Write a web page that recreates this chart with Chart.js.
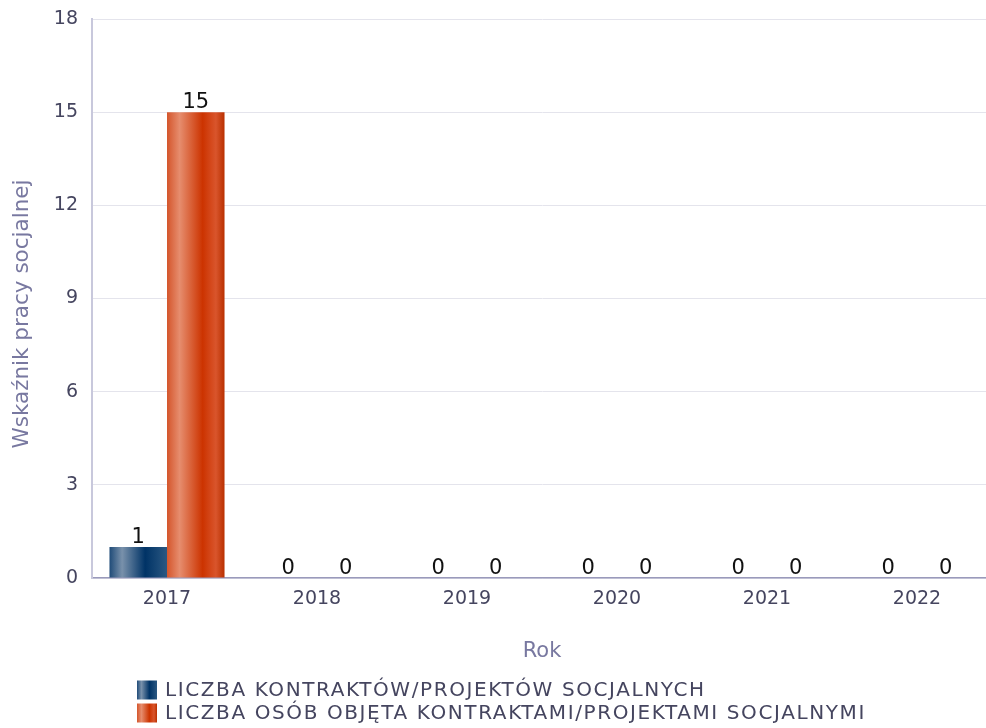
<!DOCTYPE html>
<html><head><meta charset="utf-8">
<script src="https://cdn.jsdelivr.net/npm/chart.js@4.4.1/dist/chart.umd.min.js"></script>
<style>html,body{margin:0;padding:0;background:#fff;overflow:hidden;}#wrap{width:986px;height:728px;overflow:hidden;}</style>
</head><body><div id="wrap"><canvas id="c" width="1000" height="728"></canvas></div>
<script>
const categories = ['2017','2018','2019','2020','2021','2022'];
const contracts = [1,0,0,0,0,0];
const persons = [15,0,0,0,0,0];
const seriesLabels = ['LICZBA KONTRAKTÓW/PROJEKTÓW SOCJALNYCH','LICZBA OSÓB OBJĘTA KONTRAKTAMI/PROJEKTAMI SOCJALNYMI'];
const yTicks = [0,3,6,9,12,15,18];
const yTitle = 'Wskaźnik pracy socjalnej';
const xTitle = 'Rok';

const FONT = "'DejaVu Sans', Verdana, sans-serif";
const CAT_PCT = 0.767;
const palettes = [
  [[0,'#1f4b78'],[0.22,'#7991ab'],[0.62,'#003366'],[1,'#2b5882']],
  [[0,'#d4552b'],[0.22,'#e68d6e'],[0.62,'#cc3300'],[0.85,'#d9552c'],[1,'#b93000']]
];
const solid = ['#1f4b78','#cc3300'];

function barFill(ctx){
  const chart = ctx.chart;
  const xs = chart.scales.x;
  if (!xs || ctx.dataIndex === undefined) return solid[ctx.datasetIndex];
  const cw = xs.width / categories.length;
  const w = cw * CAT_PCT / 2;
  const xc = xs.getPixelForValue(ctx.dataIndex);
  const left = ctx.datasetIndex === 0 ? xc - w : xc;
  if (!isFinite(left) || !isFinite(w) || w <= 0) return solid[ctx.datasetIndex];
  const g = chart.ctx.createLinearGradient(left, 0, left + w, 0);
  palettes[ctx.datasetIndex].forEach(s => g.addColorStop(s[0], s[1]));
  return g;
}

const valueLabels = {
  id: 'valueLabels',
  afterDatasetsDraw(chart){
    const c = chart.ctx;
    c.save();
    c.font = "21px " + FONT;
    c.fillStyle = '#111';
    c.textAlign = 'center';
    c.textBaseline = 'bottom';
    chart.data.datasets.forEach((ds, di) => {
      chart.getDatasetMeta(di).data.forEach((bar, i) => {
        c.fillText(String(ds.data[i]), bar.x, bar.y + 1);
      });
    });
    c.restore();
  }
};

const yTitlePlugin = {
  id: 'yTitlePlugin',
  afterDraw(chart){
    const c = chart.ctx;
    c.save();
    c.font = "21.5px " + FONT;
    c.fillStyle = '#7878a0';
    c.textAlign = 'center';
    c.textBaseline = 'middle';
    c.translate(22, 314);
    c.rotate(-Math.PI / 2);
    c.fillText(yTitle, 0, 0);
    c.restore();
  }
};

const customLegend = {
  id: 'customLegend',
  afterDraw(chart){
    const c = chart.ctx;
    c.save();
    c.font = "20px " + FONT;
    c.textBaseline = 'middle';
    c.textAlign = 'left';
    try { c.letterSpacing = '1.6px'; } catch(e) {}
    const x0 = 137, ys = [690, 713], bw = 20, bh = 19;
    chart.data.datasets.forEach((ds, di) => {
      const y = ys[di];
      const g = c.createLinearGradient(x0, 0, x0 + bw, 0);
      palettes[di].forEach(s => g.addColorStop(s[0], s[1]));
      c.fillStyle = g;
      c.fillRect(x0, y - bh/2, bw, bh);
      c.fillStyle = '#45455f';
      c.fillText(ds.label, x0 + bw + 8, y + 1);
    });
    c.restore();
  }
};

new Chart(document.getElementById('c'), {
  type: 'bar',
  data: {
    labels: categories,
    datasets: [
      { label: seriesLabels[0], data: contracts, backgroundColor: barFill, borderWidth: 0 },
      { label: seriesLabels[1], data: persons, backgroundColor: barFill, borderWidth: 0 }
    ]
  },
  options: {
    responsive: false,
    animation: false,
    devicePixelRatio: 1,
    layout: { padding: { top: 19, right: 8, left: 0, bottom: 62 } },
    datasets: { bar: { categoryPercentage: CAT_PCT, barPercentage: 1 } },
    plugins: { legend: { display: false }, tooltip: { enabled: false } },
    scales: {
      x: {
        grid: { display: false, drawTicks: false },
        border: { color: '#9a9abb', width: 1.5 },
        ticks: { color: '#45455f', font: { size: 19, family: FONT }, padding: 10 },
        title: { display: true, text: xTitle, color: '#7878a0', font: { size: 21, family: FONT }, padding: { top: 4, bottom: 2 } },
        afterFit(s){ s.height = 88; s.paddingLeft = 0; s.paddingRight = 0; }
      },
      y: {
        min: 0, max: 18,
        afterBuildTicks(s){ s.ticks = yTicks.map(v => ({ value: v })); },
        grid: { color: '#e4e4ec', drawTicks: false },
        border: { color: '#c8c8dc', width: 2 },
        ticks: { color: '#45455f', font: { size: 19, family: FONT }, padding: 14 },
        title: { display: false },
        afterFit(s){ s.width = 92; s.paddingTop = 0; s.paddingBottom = 0; }
      }
    }
  },
  plugins: [valueLabels, yTitlePlugin, customLegend]
});
</script></body></html>
